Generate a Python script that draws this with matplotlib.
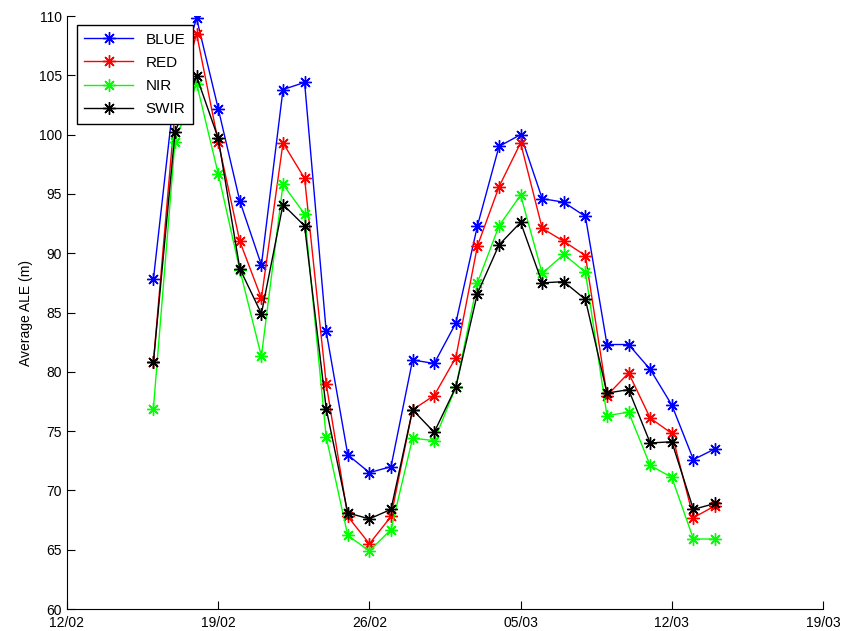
import datetime as dt
import matplotlib
matplotlib.use('Agg')
import matplotlib.pyplot as plt
import matplotlib.dates as mdates

plt.rcParams['font.family'] = ['Liberation Sans', 'DejaVu Sans']

# Data (one value per day, 16/02 to 14/03)
start = dt.date(2013, 2, 16)
dates = [start + dt.timedelta(days=i) for i in range(27)]

blue = [87.8, 104.0, 109.8, 102.2, 94.4, 89.0, 103.8, 104.4, 83.4, 73.0,
        71.5, 72.0, 81.0, 80.7, 84.1, 92.3, 99.0, 100.0, 94.6, 94.3,
        93.1, 82.3, 82.3, 80.2, 77.2, 72.6, 73.5]
red = [80.8, 102.0, 108.5, 99.4, 91.0, 86.2, 99.3, 96.3, 79.0, 67.8,
       65.5, 67.8, 76.8, 78.0, 81.2, 90.6, 95.6, 99.3, 92.1, 91.0,
       89.8, 78.0, 79.9, 76.1, 74.8, 67.7, 68.7]
nir = [76.9, 99.4, 104.3, 96.7, 88.6, 81.3, 95.8, 93.3, 74.5, 66.2,
       64.9, 66.7, 74.4, 74.2, 78.7, 87.5, 92.3, 94.9, 88.3, 89.9,
       88.4, 76.3, 76.6, 72.1, 71.1, 65.9, 65.9]
swir = [80.8, 100.2, 104.9, 99.7, 88.7, 84.9, 94.1, 92.3, 76.9, 68.1,
        67.6, 68.4, 76.8, 74.9, 78.7, 86.6, 90.7, 92.6, 87.5, 87.6,
        86.1, 78.2, 78.5, 74.0, 74.1, 68.4, 68.9]

labels = ['BLUE', 'RED', 'NIR', 'SWIR']
colors = ['#0000ff', '#ff0000', '#00ff00', '#000000']

fig = plt.figure(figsize=(8.44, 6.31), dpi=100)
ax = fig.add_axes([67/844, 22/631, 756/844, 593/631])

# MATLAB-style asterisk marker (8 spokes)
for series, lab, col in zip([blue, red, nir, swir], labels, colors):
    ax.plot(dates, series, color=col, marker=(8, 2, 0), markersize=9,
            markeredgewidth=1, linewidth=1, label=lab)

ax.set_xlim(dt.date(2013, 2, 12), dt.date(2013, 3, 19))
ax.set_ylim(60, 110)
ax.set_yticks(range(60, 111, 5))
ax.set_xticks([dt.date(2013, 2, 12) + dt.timedelta(days=7 * i) for i in range(6)])
ax.xaxis.set_major_formatter(mdates.DateFormatter('%d/%m'))

ax.spines['top'].set_visible(False)
ax.spines['right'].set_visible(False)
ax.tick_params(direction='in', length=6, labelsize=10, top=False, right=False)
ax.tick_params(axis='x', pad=5)
ax.set_ylabel('Average ALE (m)', fontsize=10)

leg = ax.legend(loc='upper left', bbox_to_anchor=(0.013, 0.985), borderaxespad=0,
                fancybox=False, edgecolor='black', framealpha=1, fontsize=11,
                handlelength=3.2, borderpad=0.5, labelspacing=0.6)
leg.get_frame().set_linewidth(1)

fig.savefig('out.png', dpi=100)
